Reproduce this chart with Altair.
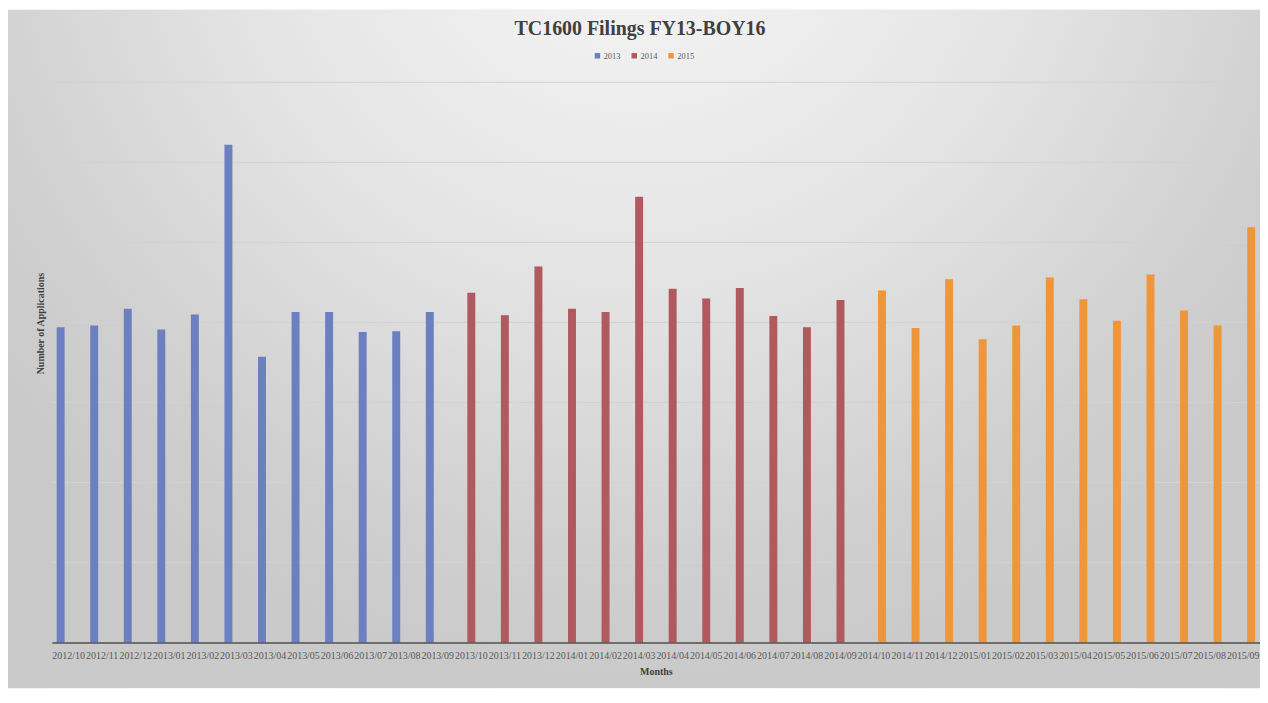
import altair as alt
import pandas as pd

# ---- data ----
months_2013 = ["2012/10", "2012/11", "2012/12", "2013/01", "2013/02", "2013/03",
               "2013/04", "2013/05", "2013/06", "2013/07", "2013/08", "2013/09"]
months_2014 = ["2013/10", "2013/11", "2013/12", "2014/01", "2014/02", "2014/03",
               "2014/04", "2014/05", "2014/06", "2014/07", "2014/08", "2014/09"]
months_2015 = ["2014/10", "2014/11", "2014/12", "2015/01", "2015/02", "2015/03",
               "2015/04", "2015/05", "2015/06", "2015/07", "2015/08", "2015/09"]
apps_2013 = [1970, 1980, 2085, 1955, 2050, 3110, 1785, 2065, 2065, 1940, 1945, 2065]
apps_2014 = [2185, 2045, 2350, 2085, 2065, 2785, 2210, 2150, 2215, 2040, 1970, 2140]
apps_2015 = [2200, 1965, 2270, 1895, 1980, 2280, 2145, 2010, 2300, 2075, 1980, 2595]
series_names = ["2013", "2014", "2015"]
series_colors = ["#6b7fc1", "#ae5a5e", "#f0963a"]
grid_values = [500, 1000, 1500, 2000, 2500, 3000, 3500]

all_months = months_2013 + months_2014 + months_2015
rows = []
for name, ms, vs in zip(series_names, [months_2013, months_2014, months_2015],
                        [apps_2013, apps_2014, apps_2015]):
    for m, v in zip(ms, vs):
        rows.append({"Month": m, "Year": name, "Applications": v})
df = pd.DataFrame(rows)
grid_df = pd.DataFrame({"Applications": grid_values})

W = 1214
H = 563
PAD_L, PAD_T, PAD_R, PAD_B = 44, 73, 0, 46
FONT = "Liberation Serif"

ydomain = [0, 3500]

y_axis = alt.Axis(
    title="Number of Applications", labels=False, ticks=False, domain=False,
    grid=False, titleFont=FONT, titleFontSize=10, titleFontWeight="bold",
    titleColor="#404040", titleX=-6, titleY=242, titleBaseline="bottom",
    titleAngle=270, zindex=1,
)

# full-area vignette background drawn in pixel space
bgfull = alt.Chart(alt.Data(values=[{"a": 1}])).mark_rect(
    fill={
        "gradient": "radial",
        "x1": 0.5, "y1": 0.12, "r1": 0,
        "x2": 0.5, "y2": 0.12, "r2": 0.65,
        "stops": [
            {"offset": 0, "color": "#f8f8f8"},
            {"offset": 0.5, "color": "#e4e4e4"},
            {"offset": 0.85, "color": "#cfcfcf"},
            {"offset": 1, "color": "#cacaca"},
        ],
    },
    stroke=None,
).encode(
    x=alt.value(-PAD_L), x2=alt.value(W + 2),
    y=alt.value(-PAD_T), y2=alt.value(H + PAD_B),
)

grid = alt.Chart(grid_df).mark_rule(color="#d2d2d2", strokeWidth=1).encode(
    y=alt.Y("Applications:Q", scale=alt.Scale(domain=ydomain), axis=y_axis),
    x=alt.value(0), x2=alt.value(W),
)

bars = alt.Chart(df).mark_bar().encode(
    x=alt.X(
        "Month:N", sort=all_months,
        scale=alt.Scale(paddingInner=0.29, paddingOuter=0.145),
        axis=alt.Axis(
            title="Months", labelAngle=0, labelOverlap=False, ticks=False,
            domainColor="#505050", domainWidth=1.5, labelColor="#595959",
            labelFont=FONT, labelFontSize=10, labelPadding=8,
            titleFont=FONT, titleFontSize=10, titleFontWeight="bold",
            titleColor="#404040", titlePadding=6, zindex=1, grid=False,
        ),
    ),
    xOffset=alt.XOffset("Year:N", scale=alt.Scale(domain=series_names, paddingInner=0, paddingOuter=0)),
    y=alt.Y("Applications:Q", scale=alt.Scale(domain=ydomain), axis=y_axis),
    color=alt.Color(
        "Year:N",
        scale=alt.Scale(domain=series_names, range=series_colors),
        legend=alt.Legend(
            title=None, orient="none", legendX=544, legendY=-31, direction="horizontal",
            symbolType="square", symbolSize=30, symbolStrokeWidth=0,
            labelFont=FONT, labelFontSize=8.5, labelColor="#595959",
            columnPadding=9, labelOffset=2, zindex=1,
        ),
    ),
)

chart = alt.layer(bgfull, grid, bars).properties(
    width=W, height=H,
    title=alt.TitleParams(
        "TC1600 Filings FY13-BOY16", font=FONT, fontSize=20, fontWeight="bold",
        color="#404040", offset=0, dy=29, dx=-16, zindex=1, anchor="middle",
    ),
    autosize=alt.AutoSizeParams(type="none"),
    padding={"left": PAD_L, "top": PAD_T, "right": PAD_R, "bottom": PAD_B},
).configure_view(stroke=None).configure(background="#ffffff")

chart.save("out.html", embed_options={"renderer": "svg", "actions": False})
